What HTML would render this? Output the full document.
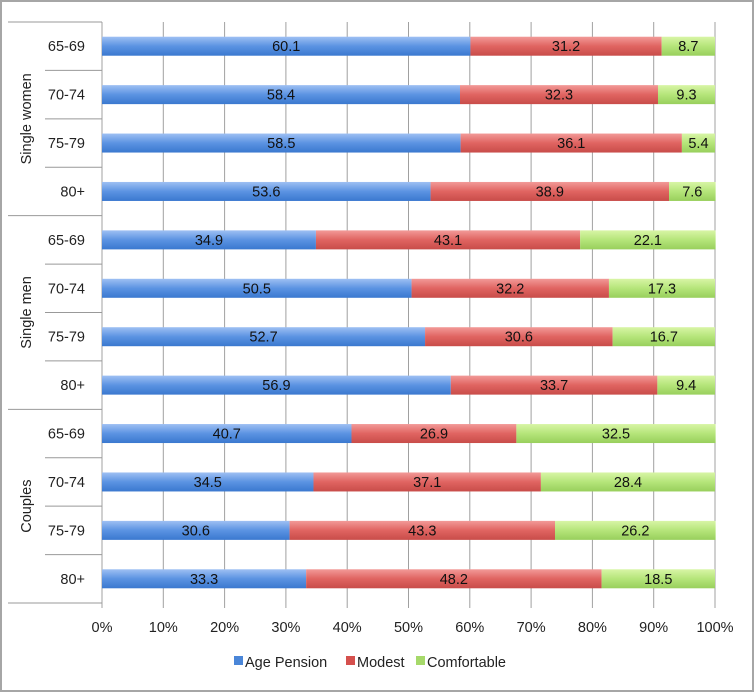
<!DOCTYPE html>
<html><head><meta charset="utf-8"><style>
body{margin:0;background:#fff;font-family:"Liberation Sans",sans-serif;}
svg text{font-family:"Liberation Sans",sans-serif;}
</style></head><body>
<svg id="c" width="754" height="692">
<defs>
<linearGradient id="gb" x1="0" y1="0" x2="0" y2="1"><stop offset="0" stop-color="#9ec0f3"/><stop offset="0.5" stop-color="#5b93e2"/><stop offset="1" stop-color="#3a78cf"/></linearGradient>
<linearGradient id="gr" x1="0" y1="0" x2="0" y2="1"><stop offset="0" stop-color="#f29a98"/><stop offset="0.5" stop-color="#e06461"/><stop offset="1" stop-color="#c84c49"/></linearGradient>
<linearGradient id="gg" x1="0" y1="0" x2="0" y2="1"><stop offset="0" stop-color="#d8f5a6"/><stop offset="0.5" stop-color="#b5e57a"/><stop offset="1" stop-color="#98cf5c"/></linearGradient>
</defs>
<rect x="1" y="1" width="752" height="690" fill="#fff" stroke="#a6a6a6" stroke-width="2"/>
</svg>
<script>
const groups=["Single women","Single men","Couples"];
const ages=["65-69","70-74","75-79","80+"];
const agePension=[60.1,58.4,58.5,53.6,34.9,50.5,52.7,56.9,40.7,34.5,30.6,33.3];
const modest=[31.2,32.3,36.1,38.9,43.1,32.2,30.6,33.7,26.9,37.1,43.3,48.2];
const comfortable=[8.7,9.3,5.4,7.6,22.1,17.3,16.7,9.4,32.5,28.4,26.2,18.5];
const ticks=[0,10,20,30,40,50,60,70,80,90,100];
const series=[{name:"Age Pension",vals:agePension,fill:"url(#gb)",sw:"#4a86d8"},{name:"Modest",vals:modest,fill:"url(#gr)",sw:"#d5504d"},{name:"Comfortable",vals:comfortable,fill:"url(#gg)",sw:"#a6d96a"}];
const svg=document.getElementById('c');const NS="http://www.w3.org/2000/svg";
function el(t,a,p){const e=document.createElementNS(NS,t);for(const k in a)e.setAttribute(k,a[k]);(p||svg).appendChild(e);return e;}
const X0=102,X1=715,Y0=22,Y1=603,n=agePension.length,RH=(Y1-Y0)/n,BH=19,FS=14.5;
const x=v=>X0+(X1-X0)*v/100;
const y=i=>Y0+RH*i+RH/2;
ticks.forEach(t=>{
 const g=el('line',{x1:x(t),x2:x(t),y1:Y0,y2:Y1+5,stroke:'#a0a0a0','stroke-width':1});
 
 
 const tx=el('text',{x:x(t),y:632,'text-anchor':'middle','font-size':FS,fill:'#222'});tx.textContent=t+'%';
 
 
});
for(let i=0;i<=n;i++){
 const yy=Y0+RH*i;const isG=i%4===0;
 const l=el('line',{x1:isG?8:45,x2:X0,y1:yy,y2:yy,stroke:'#999','stroke-width':1});
 
 
}
for(let i=0;i<n;i++){
 const t=el('text',{x:85,y:y(i)+5,'text-anchor':'end','font-size':FS,fill:'#222'});t.textContent=ages[i%4];
 
 
 let acc=0;
 series.forEach(s=>{
  const v=s.vals[i];
  const r=el('rect',{x:x(acc),y:y(i)-BH/2,width:x(acc+v)-x(acc),height:BH,fill:s.fill});
  
  
  const lb=el('text',{x:(x(acc)+x(acc+v))/2,y:y(i)+5,'text-anchor':'middle','font-size':FS,fill:'#111'});lb.textContent=v.toFixed(1);
  
  
  acc+=v;
 });
}
groups.forEach((g,gi)=>{
 const cy=Y0+RH*(gi*4+2);
 const t=el('text',{x:0,y:0,'text-anchor':'middle','font-size':FS,fill:'#222',transform:`translate(31,${cy}) rotate(-90)`});t.textContent=g;
 
 
});
const lx=[234,346,416];
series.forEach((s,i)=>{
 const r=el('rect',{x:lx[i],y:656,width:9,height:9,fill:s.sw});
 
 
 const t=el('text',{x:lx[i]+11,y:667,'font-size':FS,fill:'#222'});t.textContent=s.name;
 
 
});
</script>
</body></html>
